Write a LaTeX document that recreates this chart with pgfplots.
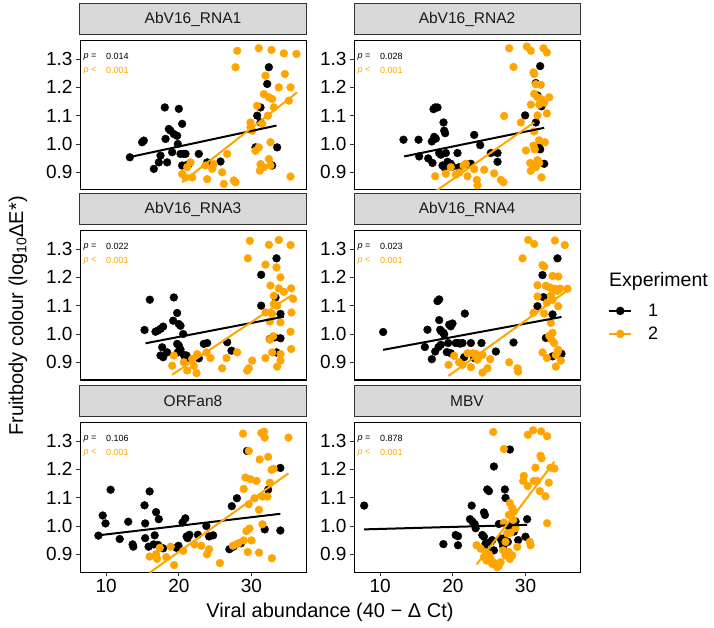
\documentclass[border=0pt]{standalone}
\usepackage{fontspec}
\setmainfont{Liberation Sans}
\usepackage{pgfplots}
\pgfplotsset{compat=1.18}
\definecolor{orng}{HTML}{FFA500}
\definecolor{stripfill}{HTML}{D9D9D9}
\definecolor{stripline}{HTML}{333333}
\pgfplotsset{
 panel/.style={
  scale only axis, width=226pt, height=149pt, anchor=south west,
  xmin=6.4, xmax=37.5, ymin=0.8375, ymax=1.3636,
  ytick={0.9,1.0,1.1,1.2,1.3}, yticklabels={0.9,1.0,1.1,1.2,1.3},
  xtick pos=left, ytick pos=left, tick align=outside,
  major tick length=4pt,
  every tick/.style={line width=0.9pt, color=stripline},
  axis line style={line width=1pt, color=black},
  tick label style={font=\fontsize{19}{21}\selectfont, color=black},
  clip mode=individual,
  title style={at={(0.5,1)}, anchor=south, draw=stripline, line width=1pt, fill=stripfill, minimum width=226pt, minimum height=31pt, inner sep=0pt, align=center, font=\fontsize{15.5}{17}\selectfont, text=black!90},
 },
 toprow/.style={xtick=\empty},
 botrow/.style={xtick={10,20,30}, xticklabels={10,20,30}},
 e1/.style={only marks, mark=*, mark size=3.9pt, color=black, mark options={draw=none, fill=black}},
 e2/.style={only marks, mark=*, mark size=3.9pt, color=orng, mark options={draw=none, fill=orng}},
 l1/.style={color=black, line width=2pt, mark=none},
 l2/.style={color=orng, line width=2pt, mark=none},
}
\newcommand{\pvals}[1]{%
 \node[anchor=west, inner sep=0pt, font=\fontsize{9}{10}\selectfont] at (axis description cs:0.015,0.895) {\textit{p} =};
 \node[anchor=west, inner sep=0pt, font=\fontsize{9}{10}\selectfont] at (axis description cs:0.115,0.895) {#1};
 \node[anchor=west, inner sep=0pt, font=\fontsize{9}{10}\selectfont, text=orng] at (axis description cs:0.015,0.803) {\textit{p} <};
 \node[anchor=west, inner sep=0pt, font=\fontsize{9}{10}\selectfont, text=orng] at (axis description cs:0.115,0.803) {0.001};
}
\begin{document}
\begin{tikzpicture}
\path[use as bounding box] (0pt,0pt) rectangle (714pt,627pt);

% ---------- AbV16_RNA1
\begin{axis}[panel, toprow, at={(80pt,437pt)}, title={AbV16\_RNA1}]
\addplot[e1] coordinates {(13.26,0.953) (14.95,1.006) (15.18,1.012) (16.56,0.912) (17.25,0.935) (17.48,0.959) (18.07,1.129) (18.17,1.018) (18.39,0.935) (18.62,1.053) (18.85,1.047) (19.08,0.971) (19.31,1.035) (19.77,1.029) (19.86,1.0) (20.0,1.124) (20.23,0.965) (20.46,1.071) (20.69,0.965) (20.92,0.965) (20.46,0.924) (20.92,0.924) (21.38,0.929) (22.75,0.965) (23.9,0.935) (25.73,0.938) (30.55,0.988) (30.78,1.1) (31.24,1.129) (31.24,1.076) (32.16,1.212) (32.39,1.271) (32.84,0.924) (33.53,0.988)};
\addplot[e2] coordinates {(28.03,1.329) (27.8,1.271) (31.0,1.338) (32.75,1.332) (34.45,1.32) (36.19,1.318) (31.93,1.241) (34.59,1.247) (33.76,1.2) (31.7,1.176) (32.39,1.165) (32.84,1.159) (35.37,1.2) (30.78,1.135) (33.07,1.129) (35.14,1.153) (32.25,1.1) (31.47,1.071) (29.86,1.076) (30.09,1.047) (32.61,1.006) (31.0,0.988) (30.55,0.976) (32.39,0.947) (31.24,0.929) (31.7,0.918) (31.15,0.906) (32.61,0.924) (35.37,0.885) (20.46,0.894) (20.92,0.882) (21.61,0.935) (21.15,0.918) (21.83,0.882) (23.67,0.924) (23.9,0.876) (24.59,0.912) (24.82,0.929) (25.96,0.9) (26.65,0.965) (26.19,0.859) (27.57,0.871) (27.8,0.865) (29.86,1.059)};
\addplot[l1] coordinates {(13.1,0.953) (33.44,1.065)};
\addplot[l2] coordinates {(20.46,0.865) (36.28,1.182)};
\pvals{0.014}
\end{axis}

% ---------- AbV16_RNA2
\begin{axis}[panel, toprow, at={(354pt,437pt)}, title={AbV16\_RNA2}]
\addplot[e1] coordinates {(13.21,1.015) (15.28,1.015) (15.37,0.956) (16.61,0.949) (17.11,1.009) (17.2,0.933) (17.34,1.123) (17.57,1.129) (17.89,1.129) (17.43,1.025) (17.66,1.019) (18.12,0.968) (18.35,0.962) (18.72,1.076) (18.81,1.047) (18.94,1.038) (19.04,0.968) (18.58,0.924) (18.81,0.918) (19.27,0.937) (19.95,0.92) (20.64,0.968) (19.72,0.93) (20.87,0.918) (22.02,0.928) (22.94,1.032) (22.48,0.93) (23.76,0.996) (25.23,0.968) (26.15,0.968) (26.15,0.937) (29.95,1.101) (31.42,1.215) (31.65,1.171) (32.02,1.275) (32.2,1.133) (31.42,1.076) (31.88,0.987) (32.02,0.981) (32.57,0.93)};
\addplot[e2] coordinates {(17.57,0.886) (19.04,0.895) (19.72,0.918) (20.41,0.892) (20.87,0.899) (21.47,0.924) (21.79,0.93) (22.02,0.886) (22.94,0.911) (23.3,0.873) (23.39,0.854) (24.31,0.909) (25.69,0.896) (26.61,0.873) (26.97,0.865) (27.06,1.099) (27.75,1.338) (28.35,1.272) (29.36,1.076) (30.18,1.344) (30.73,1.329) (31.1,1.253) (31.19,1.247) (31.42,1.211) (31.19,1.177) (31.65,1.165) (32.11,1.209) (32.48,1.338) (32.94,1.323) (32.2,1.158) (32.57,1.146) (33.26,1.165) (32.94,1.108) (31.65,1.101) (30.73,1.139) (31.88,1.139) (31.19,1.044) (30.05,0.977) (31.1,0.994) (31.28,0.981) (31.88,1.013) (32.66,1.006) (30.64,0.933) (31.19,0.924) (31.65,0.943) (31.88,0.933) (30.73,0.905) (32.2,0.882) (31.42,0.918)};
\addplot[l1] coordinates {(13.3,0.956) (32.57,1.057)};
\addplot[l2] coordinates {(17.57,0.832) (31.19,1.076)};
\pvals{0.028}
\end{axis}

% ---------- AbV16_RNA3
\begin{axis}[panel, toprow, at={(80pt,247pt)}, title={AbV16\_RNA3}]
\addplot[e1] coordinates {(16.01,1.121) (15.28,1.014) (16.79,1.008) (17.11,1.012) (17.48,1.018) (17.84,1.026) (17.71,0.953) (17.48,0.924) (17.84,0.918) (18.39,0.935) (19.31,1.129) (19.77,1.074) (19.22,1.047) (20.0,1.035) (20.23,1.029) (20.6,1.0) (19.77,0.965) (20.0,0.959) (20.23,0.945) (19.86,0.935) (20.69,0.926) (21.06,0.924) (20.92,0.912) (22.75,0.914) (23.44,0.965) (23.9,0.968) (26.65,0.971) (27.25,0.941) (31.33,1.209) (31.33,1.1) (33.44,1.267) (33.3,1.129) (33.99,1.071) (32.52,0.982) (33.99,0.985) (33.44,0.935) (33.17,0.988)};
\addplot[e2] coordinates {(29.77,1.329) (29.5,1.267) (32.39,1.315) (33.76,1.332) (35.37,1.314) (31.93,1.245) (33.44,1.235) (33.99,1.2) (32.61,1.171) (33.76,1.161) (33.07,1.135) (34.45,1.149) (35.46,1.161) (35.73,1.124) (33.07,1.106) (33.53,1.1) (31.93,1.076) (32.84,1.071) (32.52,1.044) (33.99,1.041) (35.5,1.076) (35.37,1.008) (35.46,0.947) (32.98,0.992) (32.52,0.98) (32.84,0.935) (33.99,0.929) (31.93,0.915) (33.99,0.906) (33.53,0.885) (19.31,0.924) (19.08,0.888) (20.69,0.9) (21.83,0.912) (22.06,0.888) (22.52,0.929) (22.43,0.862) (23.81,0.935) (24.36,0.915) (25.96,0.879) (26.56,0.915) (28.03,0.935) (29.4,0.871) (29.63,0.879) (30.09,0.906) (21.15,0.871)};
\addplot[l1] coordinates {(15.41,0.967) (34.45,1.061)};
\addplot[l2] coordinates {(19.08,0.856) (35.6,1.138)};
\pvals{0.022}
\end{axis}

% ---------- AbV16_RNA4
\begin{axis}[panel, toprow, at={(354pt,247pt)}, title={AbV16\_RNA4},
  legend style={at={(axis description cs:1.124,0.525)}, anchor=north west, draw=none, fill=none, inner sep=0pt, row sep=5pt, font=\fontsize{18}{20}\selectfont, /tikz/every odd column/.append style={column sep=14pt}},
  legend cell align=left,
  legend image code/.code={\draw[#1, mark=none] (0pt,0pt) -- (22pt,0pt); \fill[#1] (11pt,0pt) circle (3.2pt);}]
\addplot[e1, forget plot] coordinates {(10.41,1.007) (16.15,0.954) (16.51,1.015) (17.11,0.911) (17.57,0.938) (17.89,1.116) (18.12,1.122) (18.12,1.049) (18.26,1.015) (18.44,1.009) (18.72,1.004) (18.03,0.954) (18.35,0.962) (19.17,0.936) (19.36,0.968) (19.5,1.033) (19.72,1.027) (19.95,1.037) (18.81,0.998) (19.72,0.932) (20.41,0.968) (20.73,0.968) (21.01,0.966) (21.33,0.968) (21.65,1.072) (21.56,0.918) (22.48,0.968) (22.94,0.915) (23.94,0.968) (25.92,0.938) (28.35,0.970) (31.65,1.098) (32.34,1.208) (32.48,1.13) (32.8,0.986) (33.72,1.069) (34.4,1.267) (34.95,0.93) (33.72,0.921)};
\addplot[e2, forget plot] coordinates {(19.4,0.891) (20.18,0.923) (20.87,0.9) (21.33,0.891) (22.02,0.932) (22.48,0.883) (22.71,0.932) (23.17,0.93) (23.39,0.909) (23.62,0.923) (24.08,0.926) (24.08,0.864) (24.77,0.879) (25.14,0.911) (27.75,0.9) (28.9,0.879) (28.99,0.867) (29.59,1.267) (30.37,1.332) (31.19,1.318) (32.34,1.243) (32.57,1.238) (31.65,1.172) (32.8,1.17) (33.72,1.205) (34.5,1.203) (34.04,1.33) (35.41,1.314) (33.39,1.164) (34.04,1.16) (34.4,1.152) (34.77,1.16) (35.78,1.16) (31.65,1.132) (33.49,1.136) (32.94,1.11) (34.5,1.098) (33.72,1.12) (31.1,1.075) (32.57,1.072) (33.49,1.039) (33.26,0.994) (33.72,1.004) (33.58,0.98) (32.34,0.935) (32.94,0.915) (34.4,0.935) (34.17,0.926) (34.5,0.944) (34.86,0.906) (34.17,0.885) (33.94,0.968)};
\addplot[l1, forget plot] coordinates {(10.41,0.944) (34.95,1.06)};
\addplot[l2, forget plot] coordinates {(19.4,0.852) (36.0,1.158)};
\addlegendimage{black, line width=2pt}
\addlegendentry{1}
\addlegendimage{orng, line width=2pt}
\addlegendentry{2}
\pvals{0.023}
\end{axis}

% ---------- ORFan8
\begin{axis}[panel, botrow, at={(80pt,55pt)}, title={ORFan8}]
\addplot[e1] coordinates {(8.93,0.966) (9.53,1.037) (9.91,1.009) (10.61,1.128) (11.87,0.954) (13.04,1.015) (13.64,0.935) (13.74,0.927) (15.28,1.073) (15.37,1.009) (15.37,0.957) (15.98,1.122) (15.84,0.927) (16.68,0.967) (16.87,1.049) (17.24,1.024) (16.54,0.935) (17.15,0.933) (17.85,0.921) (19.67,0.923) (19.95,0.93) (20.51,1.012) (20.89,1.027) (21.07,0.963) (21.21,0.957) (21.45,0.969) (22.62,0.969) (23.79,1.0) (24.16,0.963) (24.72,0.967) (26.96,0.918) (27.29,1.07) (27.52,0.927) (27.99,1.098) (28.55,0.939) (29.39,1.265) (31.82,0.988) (32.29,1.128) (33.97,1.205) (33.97,0.984)};
\addplot[e2] coordinates {(15.98,0.892) (16.87,0.9) (17.38,0.923) (17.01,0.884) (18.27,0.89) (18.88,0.927) (19.35,0.862) (20.61,0.912) (22.15,0.935) (23.08,0.93) (23.88,0.9) (24.16,0.918) (25.65,0.869) (27.43,0.93) (27.99,0.936) (28.22,0.939) (28.83,1.326) (29.63,1.265) (29.16,1.171) (29.86,1.165) (30.7,1.159) (28.93,1.131) (29.63,1.077) (30.42,1.098) (31.03,1.057) (32.2,1.104) (31.5,1.104) (32.52,1.153) (32.76,1.198) (33.04,1.202) (32.29,1.244) (31.12,1.235) (31.36,1.328) (31.73,1.333) (31.82,1.312) (35.09,1.312) (29.3,0.982) (29.72,0.991) (28.93,0.949) (30.0,0.949) (31.5,1.006) (29.49,0.908) (31.03,0.906) (32.8,0.886)};
\addplot[l1] coordinates {(8.93,0.967) (33.97,1.043)};
\addplot[l2] coordinates {(15.98,0.835) (35.09,1.186)};
\pvals{0.106}
\end{axis}

% ---------- MBV
\begin{axis}[panel, botrow, at={(354pt,55pt)}, title={MBV}]
\addplot[e1] coordinates {(7.8,1.072) (18.7,0.936) (20.39,0.968) (20.71,0.964) (20.71,0.932) (22.59,1.072) (22.36,1.024) (22.68,1.016) (23.0,1.007) (23.14,0.992) (24.28,1.048) (24.42,1.039) (24.74,1.129) (24.97,1.123) (24.05,0.968) (24.28,0.962) (24.51,0.938) (24.65,0.912) (25.19,0.944) (25.65,1.21) (25.42,0.95) (25.65,0.914) (26.34,1.007) (26.57,0.956) (26.8,0.944) (27.03,0.956) (26.93,0.928) (27.16,1.129) (27.25,1.099) (27.57,0.944) (27.71,0.998) (27.85,1.27) (28.17,1.007) (28.4,0.98) (28.63,1.016) (28.99,0.95) (30.0,0.962) (30.23,1.024)};
\addplot[e2] coordinates {(23.27,0.932) (23.82,0.92) (24.51,0.908) (24.28,0.89) (24.97,0.9) (25.42,0.866) (25.74,0.869) (26.11,0.854) (26.34,0.86) (26.57,0.872) (25.19,0.884) (24.65,0.878) (26.93,0.914) (27.25,0.944) (27.71,1.039) (27.85,1.081) (28.17,1.063) (28.4,1.051) (28.31,1.021) (27.94,0.976) (28.63,0.992) (27.48,0.974) (28.17,0.896) (27.85,0.884) (28.86,0.926) (25.56,1.332) (27.03,1.272) (29.77,1.177) (29.68,1.159) (30.32,1.141) (30.59,0.944) (30.69,0.932) (31.14,1.159) (31.37,1.206) (31.6,1.159) (32.06,1.248) (32.2,1.239) (31.97,1.123) (32.75,1.105) (33.2,1.153) (33.98,1.203) (33.43,1.206) (30.32,1.322) (31.05,1.338) (32.15,1.334) (32.97,1.317) (32.97,1.01) (27.03,1.012) (27.25,0.896) (27.71,0.908)};
\addplot[l1] coordinates {(7.8,0.988) (30.23,1.004)};
\addplot[l2] coordinates {(23.27,0.864) (33.98,1.227)};
\pvals{0.878}
\end{axis}

% ---------- labels
\node[font=\fontsize{20}{22}\selectfont, rotate=90] at (18pt,311pt) {Fruitbody colour (log\textsubscript{10}ΔE*)};
\node[font=\fontsize{20}{22}\selectfont] at (330pt,15pt) {Viral abundance (40 − Δ Ct)};
\node[font=\fontsize{19.5}{22}\selectfont, anchor=west, inner sep=0pt] at (609pt,346pt) {Experiment};
\end{tikzpicture}
\end{document}
